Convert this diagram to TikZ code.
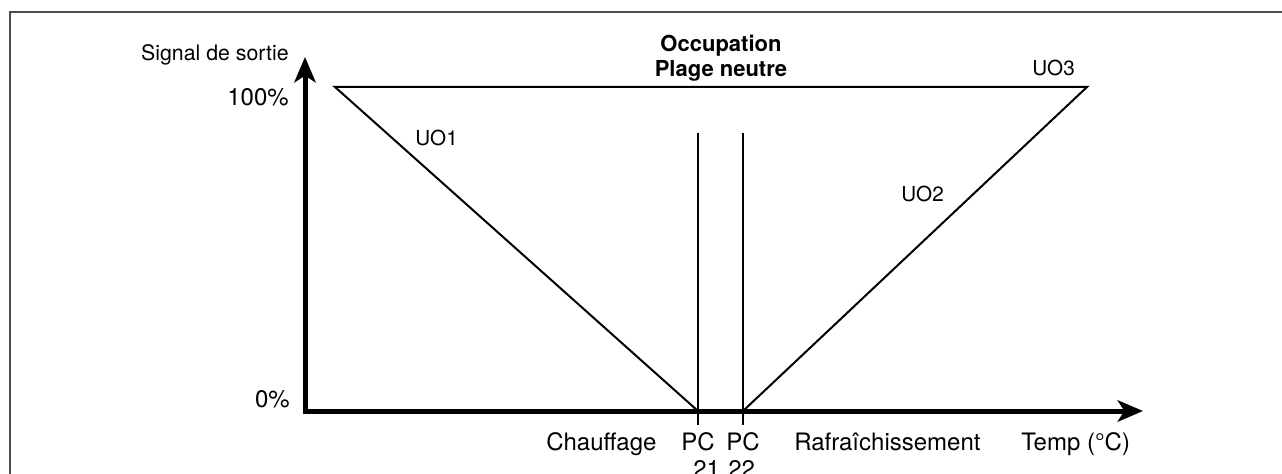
\documentclass[tikz,border=0pt]{standalone}
\usepackage{fontspec}
\setmainfont{TeX Gyre Heros}
\usetikzlibrary{arrows.meta}
\begin{document}
\begin{tikzpicture}[x=0.75pt,y=-0.75pt,
  lbl/.style={inner sep=0pt,font=\fontsize{18}{21}\selectfont},
  sig/.style={inner sep=0pt,font=\fontsize{16}{19}\selectfont},
  uo/.style={inner sep=0pt,font=\fontsize{15.5}{18}\selectfont},
  ttl/.style={inner sep=0pt,font=\fontsize{16.5}{19}\selectfont\bfseries},
  axis/.style={line width=3.75pt,line join=miter,
    arrows={Stealth[length=19pt,width=16pt,inset=5pt]-Stealth[length=19pt,width=16pt,inset=5pt]}},
  curve/.style={line width=1.5pt,line join=miter},
  frame/.style={line width=1.2pt,draw=black!70}]
\useasboundingbox (0,0) rectangle (1282,474);
% frame
\coordinate (fbl) at (10,520);
\coordinate (ftl) at (10,12);
\coordinate (ftr) at (1320,12);
\draw[frame] (fbl) -- (ftl) -- (ftr);
% axes
\coordinate (ytip) at (305,57);
\coordinate (orig) at (305,411);
\coordinate (xtip) at (1143,411);
\draw[axis] (ytip) -- (orig) -- (xtip);
% curves
\coordinate (uo1top) at (335,87);
\coordinate (pc21) at (698,411);
\coordinate (pc22) at (743,411);
\coordinate (uo3top) at (1087,87);
\draw[curve] (pc21) -- (uo1top) -- (uo3top) -- (pc22);
\coordinate (v1t) at (698,133);
\coordinate (v1b) at (698,425);
\coordinate (v2t) at (743,133);
\coordinate (v2b) at (743,425);
\draw[curve] (v1t) -- (v1b);
\draw[curve] (v2t) -- (v2b);
% labels
\node[sig,anchor=base east] (sig) at (289,61) {Signal de sortie};
\node[lbl,anchor=base east] (p100) at (289,106) {100\%};
\node[lbl,anchor=base east] (p0) at (290,407) {0\%};
\node[uo,anchor=base west] (uo1) at (415,146) {UO1};
\node[uo,anchor=base west] (uo2) at (901,202) {UO2};
\node[uo,anchor=base west] (uo3) at (1032,76) {UO3};
\node[ttl,anchor=base] (occ) at (721,52) {Occupation};
\node[ttl,anchor=base] (plage) at (721,77) {Plage neutre};
\node[lbl,anchor=base west] (chauf) at (546,450) {Chauffage};
\node[lbl,anchor=base] (pca) at (698,450) {PC};
\node[lbl,anchor=base west] (n21) at (693,477) {21};
\node[lbl,anchor=base] (pcb) at (743,450) {PC};
\node[lbl,anchor=base west] (n22) at (728,477) {22};
\node[lbl,anchor=base west] (rafr) at (794,450) {Rafraîchissement};
\node[lbl,anchor=base west] (temp) at (1021,450) {Temp (°C)};
\end{tikzpicture}
\end{document}
